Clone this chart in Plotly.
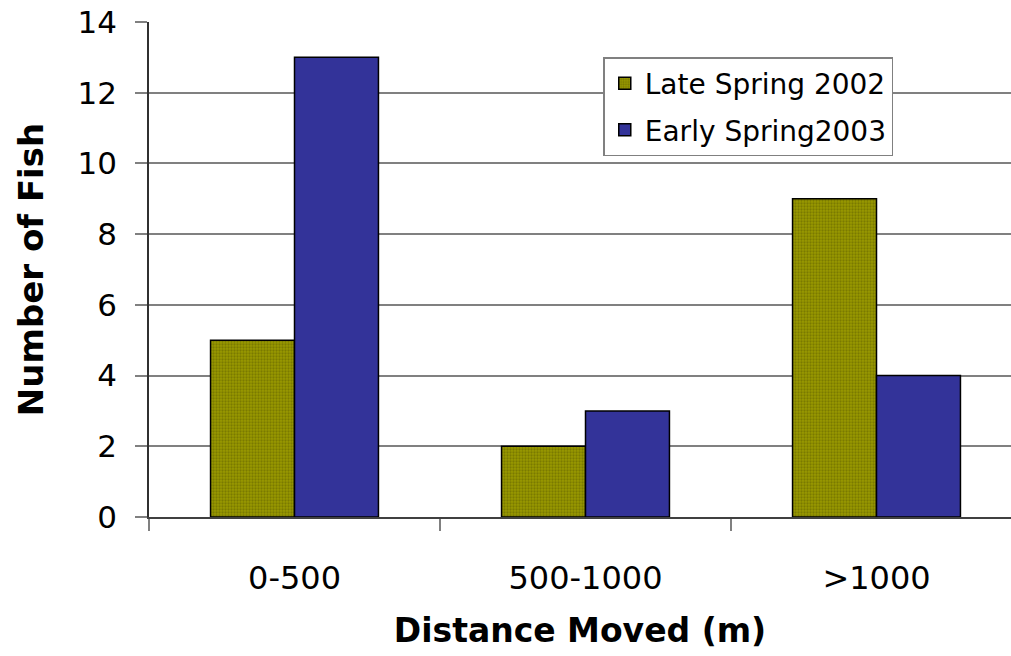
import plotly.graph_objects as go

categories = ["0-500", "500-1000", ">1000"]
late_spring_2002 = [5, 2, 9]
early_spring_2003 = [13, 3, 4]
series_names = ["Late Spring 2002", "Early Spring2003"]
y_ticks = [0, 2, 4, 6, 8, 10, 12, 14]

FONT = "DejaVu Sans, Liberation Sans, Arial, sans-serif"

fig = go.Figure()
fig.add_trace(go.Bar(
    x=categories, y=late_spring_2002, name=series_names[0],
    legendgroup="a",
    marker=dict(color="#8f8f00",
                line=dict(color="black", width=1.5),
                pattern=dict(shape=".", size=3, solidity=0.45,
                             fgcolor="#5c5c00", bgcolor="#999900",
                             fillmode="overlay")),
))
fig.add_trace(go.Bar(
    x=categories, y=early_spring_2003, name=series_names[1],
    legendgroup="b",
    marker=dict(color="#333399", line=dict(color="black", width=1.5)),
))

fig.update_layout(
    width=1011, height=656,
    margin=dict(l=149, r=0, t=22, b=139),
    paper_bgcolor="white", plot_bgcolor="white",
    barmode="group", bargap=0.423, bargroupgap=0,
    font=dict(family=FONT, color="black"),
    legend=dict(x=0.527, y=0.929, xanchor="left", yanchor="top",
                bgcolor="white", bordercolor="#808080", borderwidth=1.5,
                font=dict(size=28, family=FONT),
                traceorder="grouped", tracegroupgap=7),
    xaxis=dict(
        range=[-0.5, -0.5 + 862 / 291],
        showline=True, linecolor="#404040", linewidth=2,
        ticks="outside", tickson="boundaries", ticklen=12,
        tickcolor="#808080", tickwidth=1.5,
        tickfont=dict(size=32, family=FONT),
        ticklabelstandoff=32,
        showgrid=False,
        title=dict(text="<b>Distance Moved (m)</b>",
                   font=dict(size=33, family=FONT), standoff=22),
    ),
    yaxis=dict(
        range=[0, 14], tickvals=y_ticks,
        showline=True, linecolor="#303030", linewidth=1.5,
        ticks="outside", ticklen=12, tickcolor="#808080", tickwidth=1.5,
        tickfont=dict(size=31, family=FONT),
        ticklabelstandoff=12,
        showgrid=True, gridcolor="#808080", gridwidth=1.5,
        zeroline=False,
        title=dict(text="<b>Number of Fish</b>",
                   font=dict(size=34, family=FONT), standoff=24),
    ),
)

fig.write_html("out.html",
               config={"displayModeBar": False},
               post_script="document.body.style.margin='0';"
                           "document.body.style.overflow='hidden';")
